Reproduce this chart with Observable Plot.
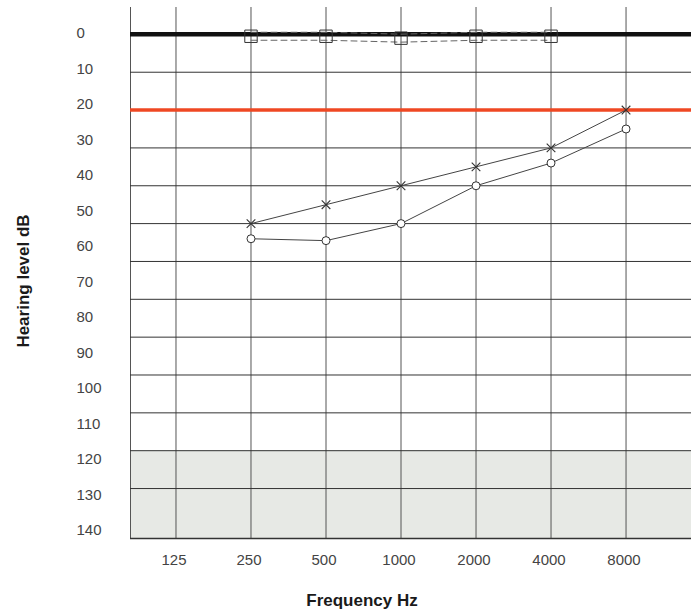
<!DOCTYPE html>
<html>
<head>
<meta charset="utf-8">
<script src="https://cdn.jsdelivr.net/npm/d3@7"></script>
<script src="https://cdn.jsdelivr.net/npm/@observablehq/plot@0.6"></script>
<style>
  html, body { margin: 0; padding: 0; background: #fff; }
  #wrap { position: relative; width: 691px; height: 615px; overflow: hidden; font-family: "Liberation Sans", Arial, sans-serif; }
  #wrap svg { position: absolute; left: 0; top: 0; background: transparent; }
  .ytitle { position: absolute; left: 24px; top: 281px; transform: translate(-50%, -50%) rotate(-90deg); font-weight: bold; font-size: 17px; color: #1a1a1a; white-space: nowrap; }
  .xtitle { position: absolute; left: 362px; top: 591px; transform: translateX(-50%); font-weight: bold; font-size: 17px; line-height: 20px; color: #1a1a1a; white-space: nowrap; }
</style>
</head>
<body>
<div id="wrap"></div>
<script>
// ---- data ----
const freqTicks = [125, 250, 500, 1000, 2000, 4000, 8000];
const testFreqs = [250, 500, 1000, 2000, 4000, 8000];
const xLevels = [50, 45, 40, 35, 30, 20];        // "X" symbols (dB HL)
const oLevels = [54, 54.5, 50, 40, 34, 25];       // "O" symbols (dB HL)
const squareFreqs = [250, 500, 1000, 2000, 4000];
const squareLevels = [0.5, 0.5, 1, 0.5, 0.5];     // square symbols near 0 dB
const gridLevels = [0, 10, 20, 30, 40, 50, 60, 70, 80, 90, 100, 110, 120];
const yLabelTicks = [0, 10, 20, 30, 40, 50, 60, 70, 80, 90, 100, 110, 120, 130, 140];
const normalLevel = 0;
const redLevel = 20;
const bandStart = 110;
const xMin = 82.1, xMax = 14650;   // visible frequency extent
const yTop = -7.1, yBottom = 133.2; // visible level extent

const xSeries = testFreqs.map((f, i) => ({f, db: xLevels[i]}));
const oSeries = testFreqs.map((f, i) => ({f, db: oLevels[i]}));
const sqSeries = squareFreqs.map((f, i) => ({f, db: squareLevels[i]}));

const font = "Liberation Sans, Arial, sans-serif";

const main = Plot.plot({
  width: 691,
  height: 615,
  marginLeft: 130,
  marginRight: 0,
  marginTop: 7,
  marginBottom: 77,
  style: {fontFamily: font, background: "transparent"},
  x: {type: "log", base: 2, domain: [xMin, xMax]},
  y: {domain: [yTop, yBottom], reverse: true, axis: null},
  marks: [
    Plot.rect([bandStart], {x1: xMin, x2: xMax, y1: d => d, y2: yBottom, fill: "#e7e9e5"}),
    Plot.ruleX(freqTicks, {stroke: "#555", strokeWidth: 1}),
    Plot.ruleX([xMin], {stroke: "#555", strokeWidth: 1}),
    Plot.ruleY(gridLevels, {stroke: "#333", strokeWidth: 1}),
    Plot.ruleY([yBottom], {stroke: "#333", strokeWidth: 1.5}),
    Plot.ruleY([redLevel], {stroke: "#ef4823", strokeWidth: 3.5}),
    Plot.ruleY([normalLevel], {stroke: "#111", strokeWidth: 4.5}),
    Plot.line(sqSeries, {x: "f", y: "db", stroke: "#666", strokeWidth: 1, strokeDasharray: "6,4", dy: -4}),
    Plot.line(sqSeries, {x: "f", y: "db", stroke: "#666", strokeWidth: 1, strokeDasharray: "6,4", dy: 4}),
    Plot.dot(sqSeries, {x: "f", y: "db", symbol: "square", r: 7, stroke: "#333", strokeWidth: 1, fill: "none"}),
    Plot.line(xSeries, {x: "f", y: "db", stroke: "#444", strokeWidth: 1}),
    Plot.line(oSeries, {x: "f", y: "db", stroke: "#444", strokeWidth: 1}),
    Plot.dot(xSeries, {x: "f", y: "db", symbol: "times", r: 4, stroke: "#333", strokeWidth: 1.1}),
    Plot.dot(oSeries, {x: "f", y: "db", symbol: "circle", r: 4, stroke: "#333", strokeWidth: 1, fill: "#fff"}),
    Plot.axisX(freqTicks, {tickSize: 0, tickPadding: 16, fontSize: 15, fill: "#444", dx: -2, tickFormat: d => String(d), label: null})
  ]
});

const labels = Plot.plot({
  width: 130,
  height: 615,
  marginTop: 33,
  marginBottom: 85,
  marginLeft: 0,
  marginRight: 54,
  style: {fontFamily: font, background: "transparent"},
  y: {domain: [0, 140], reverse: true},
  marks: [
    Plot.axisY(yLabelTicks, {anchor: "right", tickSize: 0, tickPadding: 0, fontSize: 15, fill: "#444", tickFormat: d => String(d), label: null})
  ]
});

const wrap = document.getElementById("wrap");
wrap.appendChild(main);
wrap.appendChild(labels);
const yt = document.createElement("div");
yt.className = "ytitle";
yt.textContent = "Hearing level dB";
wrap.appendChild(yt);
const xt = document.createElement("div");
xt.className = "xtitle";
xt.textContent = "Frequency Hz";
wrap.appendChild(xt);
</script>
</body>
</html>
